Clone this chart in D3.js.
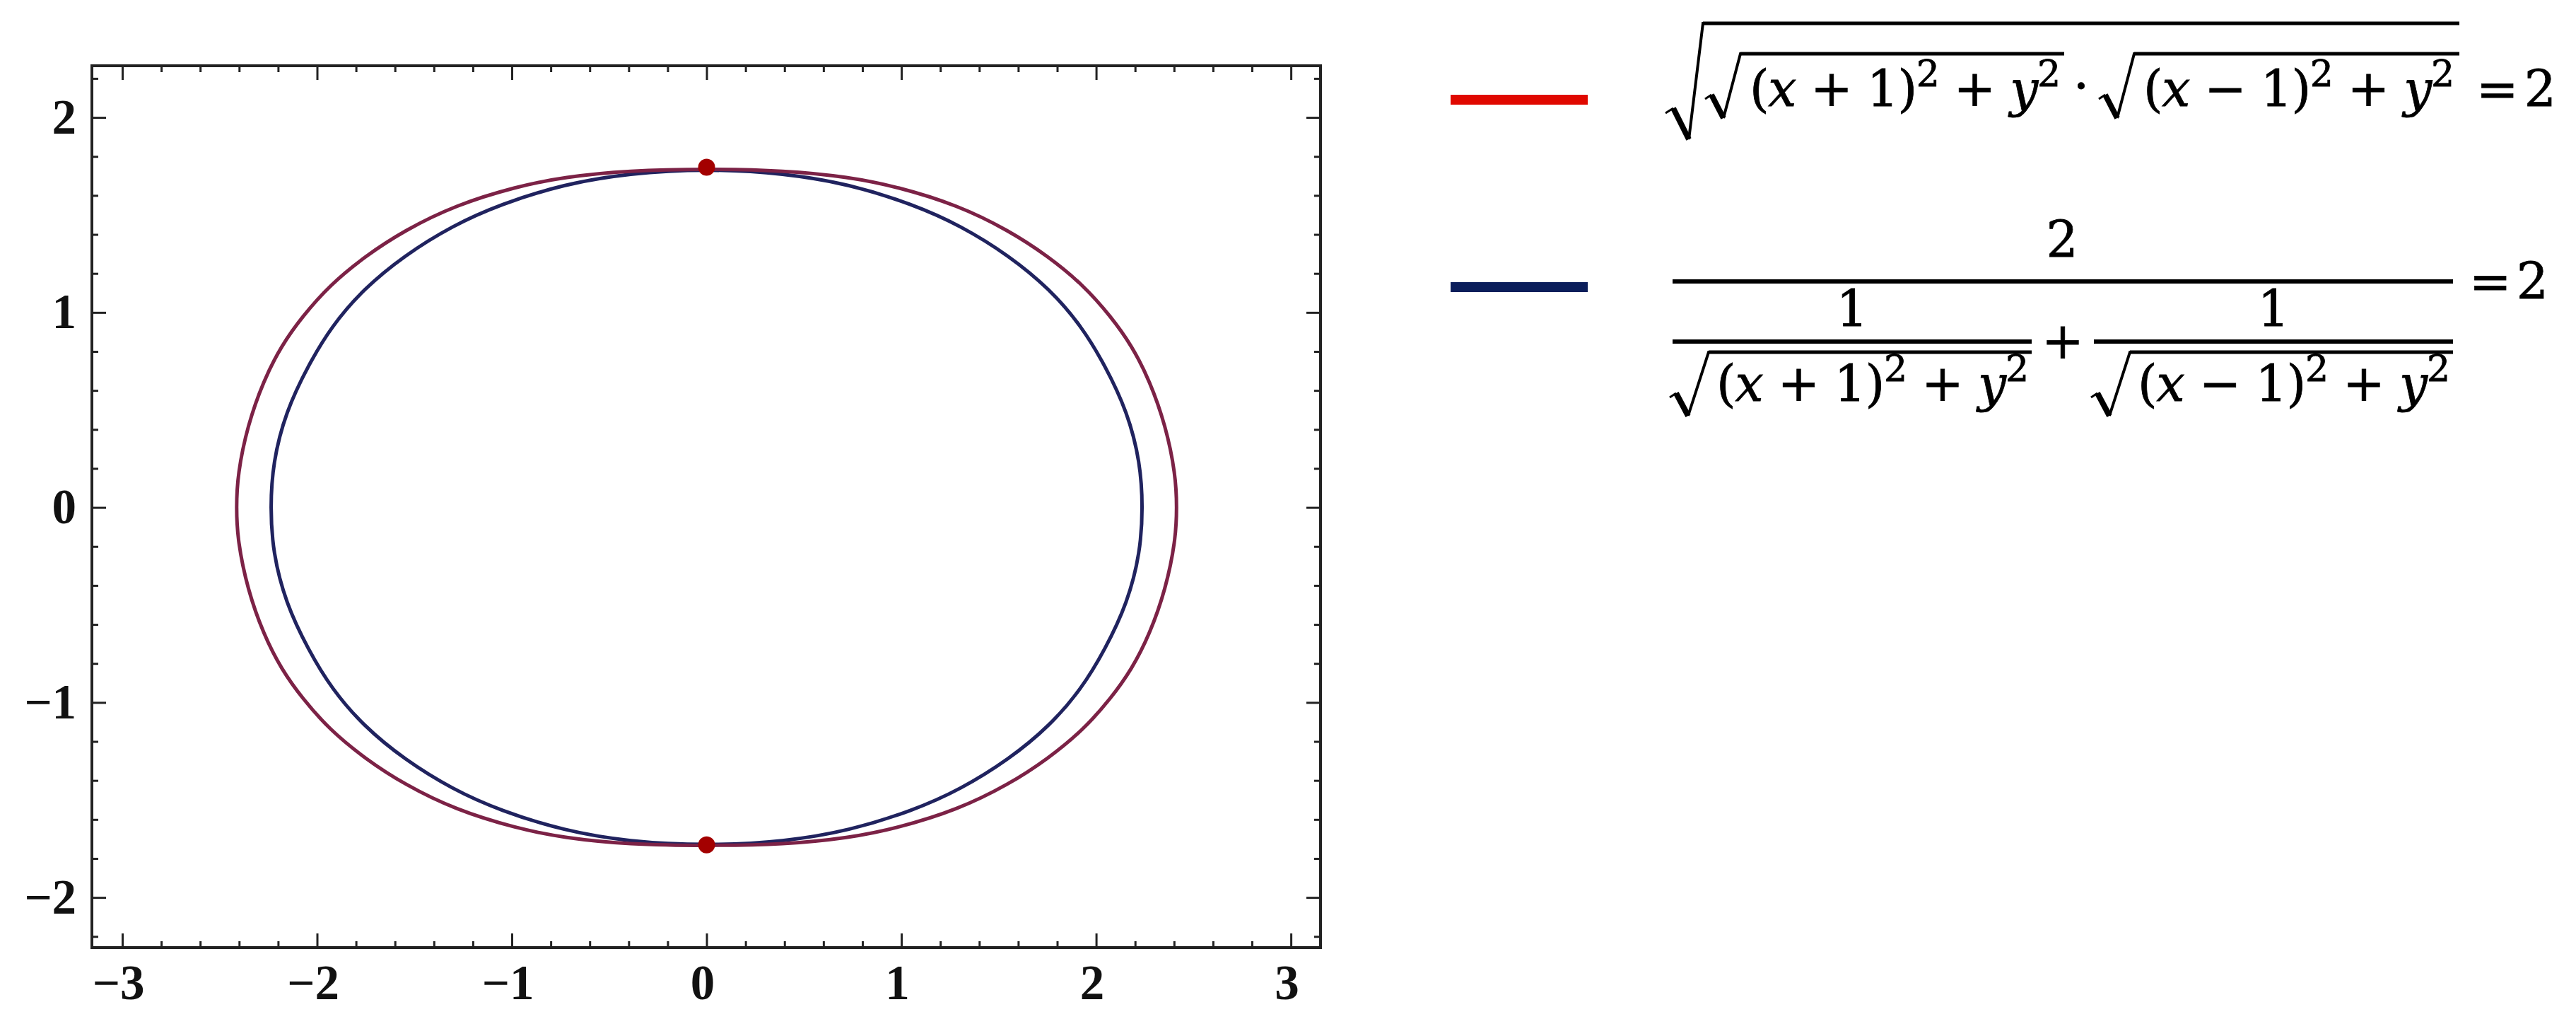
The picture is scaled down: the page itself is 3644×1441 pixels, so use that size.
<!DOCTYPE html>
<html>
<head>
<meta charset="utf-8">
<script src="https://cdn.jsdelivr.net/npm/d3@7"></script>
<style>
body{margin:0;background:#fff;}
.tick text{font-family:"Liberation Serif",serif;font-weight:bold;font-size:69px;fill:#111;}
.math{font-family:"DejaVu Serif",serif;font-size:71px;fill:#000;stroke:#000;stroke-width:0.8px;}
</style>
</head>
<body>
<div id="chart"></div>
<script>
// tick values
var xMajor=[-3,-2,-1,0,1,2,3];
var yMajor=[-2,-1,0,1,2];
var xMinor=[-2.8,-2.6,-2.4,-2.2,-1.8,-1.6,-1.4,-1.2,-0.8,-0.6,-0.4,-0.2,0.2,0.4,0.6,0.8,1.2,1.4,1.6,1.8,2.2,2.4,2.6,2.8];
var yMinor=[-2.2,-1.8,-1.6,-1.4,-1.2,-0.8,-0.6,-0.4,-0.2,0.2,0.4,0.6,0.8,1.2,1.4,1.6,1.8,2.2];

// outer curve (red in the picture), going round from the left
var redX=[-2.415,-2.408,-2.357,-2.275,-2.183,-2.075,-1.935,-1.751,-1.552,-1.290,-0.978,-0.731,-0.401,0,
	0.401,0.731,0.978,1.290,1.552,1.751,1.935,2.075,2.183,2.275,2.357,2.408,2.415,
	2.408,2.357,2.275,2.183,2.075,1.935,1.751,1.552,1.290,0.978,0.731,0.401,0,
	-0.401,-0.731,-0.978,-1.290,-1.552,-1.751,-1.935,-2.075,-2.183,-2.275,-2.357,-2.408];
var redY=[0,0.17,0.42,0.65,0.83,0.98,1.14,1.29,1.42,1.55,1.645,1.695,1.728,1.737,
	1.728,1.695,1.645,1.55,1.42,1.29,1.14,0.98,0.83,0.65,0.42,0.17,0,
	-0.17,-0.42,-0.65,-0.83,-0.98,-1.14,-1.29,-1.42,-1.55,-1.645,-1.695,-1.728,-1.735,
	-1.728,-1.695,-1.645,-1.55,-1.42,-1.29,-1.14,-0.98,-0.83,-0.65,-0.42,-0.17];

// inner curve (blue)
var blueX=[-2.24,-2.227,-2.161,-2.045,-1.925,-1.762,-1.552,-1.305,-1.059,-0.731,-0.401,0,
	0.401,0.731,1.059,1.305,1.552,1.762,1.925,2.045,2.161,2.227,2.24,
	2.227,2.161,2.045,1.925,1.762,1.552,1.305,1.059,0.731,0.401,0,
	-0.401,-0.731,-1.059,-1.305,-1.552,-1.762,-1.925,-2.045,-2.161,-2.227];
var blueY=[0,0.23,0.49,0.73,0.93,1.12,1.292,1.445,1.555,1.658,1.714,1.737,
	1.714,1.658,1.555,1.445,1.292,1.12,0.93,0.73,0.49,0.23,0,
	-0.23,-0.49,-0.73,-0.93,-1.12,-1.292,-1.445,-1.555,-1.658,-1.714,-1.735,
	-1.714,-1.658,-1.555,-1.445,-1.292,-1.12,-0.93,-0.73,-0.49,-0.23];

// the two marked points
var dotX=[0,0];
var dotY=[1.745,-1.73];

var redColor="#7c2246";
var blueColor="#20235f";

var W=3644, H=1441;
var pL=130, pR=1868, pT=93, pB=1340;

var svg=d3.select("#chart").append("svg").attr("width",W).attr("height",H);
svg.append("rect").attr("width",W).attr("height",H).attr("fill","#fff");

var x=d3.scaleLinear().domain([-3.156,3.152]).range([pL,pR]);
var y=d3.scaleLinear().domain([-2.257,2.265]).range([pB,pT]);

var fmt=function(d){return d<0?"\u2212"+Math.abs(d):""+d;};

//刻度：四邊都有，只有下、左有數字
function addAxis(axis,tx,ty,vals,len,labels,pad){
	var g=svg.append("g").attr("transform","translate("+tx+","+ty+")")
		.call(axis.tickValues(vals).tickSizeInner(-len).tickSizeOuter(0).tickPadding(pad||0)
			.tickFormat(labels?fmt:""));
	g.select(".domain").remove();
	g.selectAll(".tick line").attr("stroke","#222").attr("stroke-width",3);
	if(!labels)g.selectAll(".tick text").remove();
	return g;
}
var gb=addAxis(d3.axisBottom(x),0,pB,xMajor,20,true,24);
gb.selectAll(".tick text").attr("dx",-6);
addAxis(d3.axisBottom(x),0,pB,xMinor,9,false);
addAxis(d3.axisTop(x),0,pT,xMajor,20,false);
addAxis(d3.axisTop(x),0,pT,xMinor,9,false);
addAxis(d3.axisLeft(y),pL,0,yMajor,20,true,22);
addAxis(d3.axisLeft(y),pL,0,yMinor,9,false);
addAxis(d3.axisRight(y),pR,0,yMajor,20,false);
addAxis(d3.axisRight(y),pR,0,yMinor,9,false);

svg.append("rect").attr("x",pL).attr("y",pT).attr("width",pR-pL).attr("height",pB-pT)
	.attr("fill","none").attr("stroke","#222").attr("stroke-width",4);

// curves (smoothed through the read points)
var line=d3.line().x(function(d){return x(d[0]);}).y(function(d){return y(d[1]);})
	.curve(d3.curveBasisClosed);
svg.append("path").datum(d3.zip(blueX,blueY)).attr("d",line)
	.attr("fill","none").attr("stroke",blueColor).attr("stroke-width",5);
svg.append("path").datum(d3.zip(redX,redY)).attr("d",line)
	.attr("fill","none").attr("stroke",redColor).attr("stroke-width",5);

svg.selectAll(".dot").data(d3.zip(dotX,dotY)).enter().append("circle")
	.attr("cx",function(d){return x(d[0]);}).attr("cy",function(d){return y(d[1]);})
	.attr("r",12).attr("fill","#a30000");

// legend
var leg=svg.append("g");
leg.append("rect").attr("x",2052).attr("y",134).attr("width",194).attr("height",14).attr("fill","#e00800");
leg.append("rect").attr("x",2052).attr("y",399).attr("width",194).attr("height",14).attr("fill","#0b1e5b");

//根號
function radical(p,end,yv){
	leg.append("path").attr("d","M"+p[0]+","+p[1]+"L"+p[2]+","+p[3])
		.attr("stroke","#000").attr("stroke-width",3).attr("fill","none");
	leg.append("path").attr("d","M"+p[2]+","+p[3]+"L"+p[4]+","+p[5])
		.attr("stroke","#000").attr("stroke-width",8).attr("fill","none");
	leg.append("path").attr("d","M"+p[4]+","+p[5]+"L"+p[6]+","+p[7]+"L"+end+","+yv)
		.attr("stroke","#000").attr("stroke-width",4).attr("fill","none");
	leg.append("rect").attr("x",p[6]).attr("y",yv-2.5).attr("width",end-p[6]).attr("height",5).attr("fill","#000");
}
function bar(x0,x1,yc){
	leg.append("rect").attr("x",x0).attr("y",yc-3).attr("width",x1-x0).attr("height",6).attr("fill","#000");
}
// (x ± 1)^2 + y^2
function term(x0,base,sign,len){
	var t=leg.append("text").attr("class","math").attr("x",x0).attr("y",base)
		.attr("textLength",len).attr("lengthAdjust","spacing");
	t.append("tspan").text("(");
	t.append("tspan").attr("font-style","italic").text("x");
	t.append("tspan").text(" "+sign+" 1)");
	t.append("tspan").attr("font-size",52).attr("dy",-28).text("2");
	t.append("tspan").attr("dy",28).text(" + ");
	t.append("tspan").attr("font-style","italic").text("y");
	t.append("tspan").attr("font-size",52).attr("dy",-28).text("2");
}
function plain(str,x0,base,anchor,len){
	var t=leg.append("text").attr("class","math").attr("x",x0).attr("y",base)
		.attr("text-anchor",anchor||"start").text(str);
	if(len)t.attr("textLength",len).attr("lengthAdjust","spacing");
	return t;
}

// formula 1
radical([2356,160,2367,153,2389,197,2409,33],3479,33);
radical([2412,140,2421,134,2438,167,2462,76],2920,76);
term(2475,150,"+",440);
plain("\u00b7",2944,146,"middle");
radical([2969,140,2978,134,2995,167,3019,76],3479,76);
term(3032,150,"\u2212",440);
plain("= 2",3503,150,"start",113);

// formula 2
plain("2",2917,363,"middle");
bar(2366,3470,398);
plain("= 2",3493,422,"start",112);
plain("1",2620,461,"middle");
plain("1",3216,461,"middle");
bar(2366,2874,483);
bar(2962,3470,483);
plain("+",2918,507,"middle");
radical([2362,562,2371,556,2388,588,2417,498],2874,498);
term(2428,567,"+",442);
radical([2958,562,2967,556,2984,588,3013,498],3470,498);
term(3024,567,"\u2212",442);
</script>
</body>
</html>
